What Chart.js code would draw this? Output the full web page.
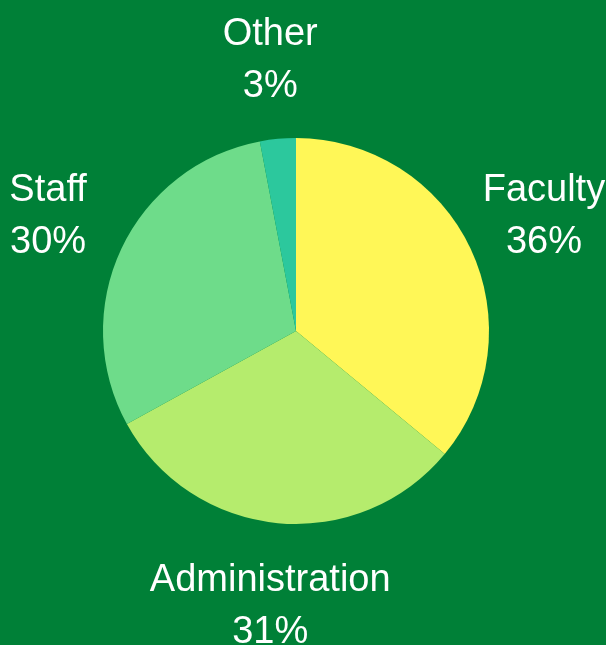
<!DOCTYPE html>
<html>
<head>
<meta charset="utf-8">
<script src="https://cdn.jsdelivr.net/npm/chart.js@4/dist/chart.umd.min.js"></script>
<style>
html,body{margin:0;padding:0;background:#008037;}
#wrap{width:606px;height:645px;position:relative;}
</style>
</head>
<body>
<div id="wrap"><canvas id="c" width="606" height="645"></canvas></div>
<script>
const categories = ["Faculty", "Administration", "Staff", "Other"];
const values = [36, 31, 30, 3];
const percentLabels = ["36%", "31%", "30%", "3%"];
const colors = ["#FFF757", "#B5EC6D", "#6EDC8A", "#2CC89D"];

const outsideLabels = {
  id: "outsideLabels",
  afterDatasetsDraw(chart) {
    const ctx = chart.ctx;
    const meta = chart.getDatasetMeta(0);
    ctx.save();
    ctx.fillStyle = "#ffffff";
    ctx.font = "38px 'Liberation Sans', Arial, sans-serif";
    ctx.textAlign = "center";
    ctx.textBaseline = "alphabetic";
    meta.data.forEach((arc, i) => {
      const p = arc.getProps(["x", "y", "startAngle", "endAngle", "outerRadius"], true);
      const mid = (p.startAngle + p.endAngle) / 2;
      const r = p.outerRadius + 81;
      const cx = p.x + Math.cos(mid) * r;
      const cy = p.y + Math.sin(mid) * r;
      ctx.fillText(categories[i], cx, cy - 13);
      ctx.fillText(percentLabels[i], cx, cy + 39);
    });
    ctx.restore();
  }
};

new Chart(document.getElementById("c"), {
  type: "pie",
  data: {
    labels: categories,
    datasets: [{
      data: values,
      backgroundColor: colors,
      borderWidth: 0
    }]
  },
  options: {
    responsive: false,
    animation: false,
    layout: { padding: { left: 103, right: 117, top: 138, bottom: 121 } },
    plugins: {
      legend: { display: false },
      tooltip: { enabled: false }
    }
  },
  plugins: [outsideLabels]
});
</script>
</body>
</html>
